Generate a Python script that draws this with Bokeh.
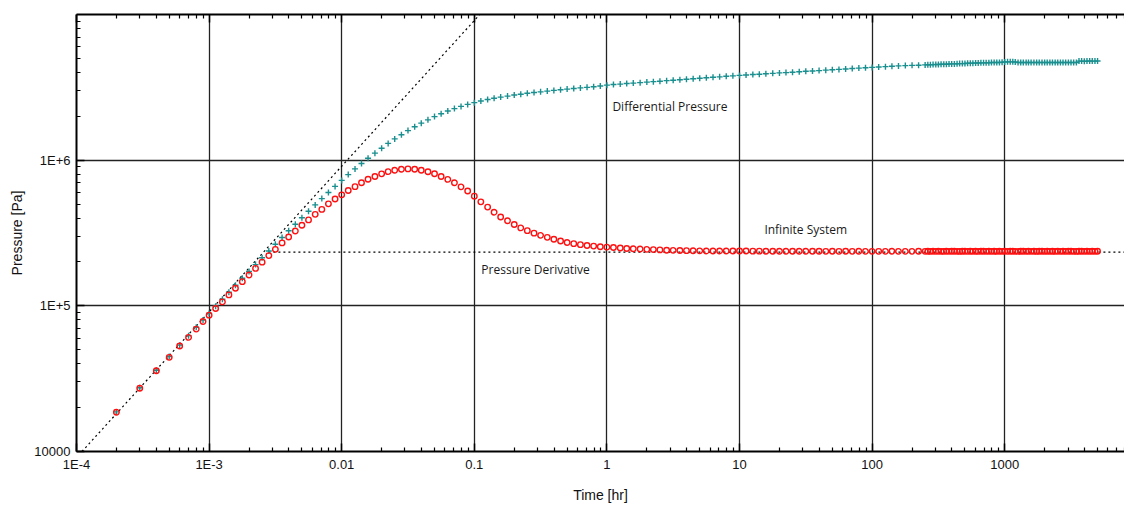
from bokeh.plotting import figure
from bokeh.models import LogAxis, FixedTicker, CustomJSTickFormatter, Label
from bokeh.embed import file_html
from bokeh.resources import INLINE

# Elapsed time [hr]
time_hr = [
    0.0002, 0.0003, 0.0004, 0.0005, 0.0006, 0.0007, 0.0008, 0.0009, 0.001,
    0.00112, 0.00126, 0.00141, 0.00158, 0.00178, 0.002, 0.00224, 0.00251, 0.00282, 0.00316,
    0.00355, 0.00398, 0.00447, 0.00501, 0.00562, 0.00631, 0.00708, 0.00794, 0.00891, 0.01,
    0.0112, 0.0126, 0.0141, 0.0158, 0.0178, 0.02, 0.0224, 0.0251, 0.0282, 0.0316,
    0.0355, 0.0398, 0.0447, 0.0501, 0.0562, 0.0631, 0.0708, 0.0794, 0.0891, 0.1,
    0.112, 0.126, 0.141, 0.158, 0.178, 0.2, 0.224, 0.251, 0.282, 0.316,
    0.355, 0.398, 0.447, 0.501, 0.562, 0.631, 0.708, 0.794, 0.891, 1.0,
    1.12, 1.26, 1.41, 1.58, 1.78, 2.0, 2.24, 2.51, 2.82, 3.16,
    3.55, 3.98, 4.47, 5.01, 5.62, 6.31, 7.08, 7.94, 8.91, 10.0,
    11.2, 12.6, 14.1, 15.8, 17.8, 20.0, 22.4, 25.1, 28.2, 31.6,
    35.5, 39.8, 44.7, 50.1, 56.2, 63.1, 70.8, 79.4, 89.1, 100.0,
    112, 126, 141, 158, 178, 200, 224, 251,
    263, 275, 288, 302, 316, 331, 347, 363, 380, 398, 417, 437, 457, 479, 501,
    525, 550, 575, 603, 631, 661, 692, 724, 759, 794, 832, 871, 912, 955, 1000,
    1050, 1100, 1150, 1200, 1260, 1320, 1380, 1450, 1510, 1580, 1660, 1740, 1820, 1910, 2000,
    2090, 2190, 2290, 2400, 2510, 2630, 2750, 2880, 3020, 3160, 3310, 3470, 3630, 3800, 3980,
    4170, 4370, 4570, 4790, 5010,
]

# Differential pressure [Pa]
diff_pressure_pa = [
    18700, 27400, 36100, 44900, 53700, 62400, 71300, 80000, 88700,
    99300, 110900, 123900, 138400, 154500, 172200, 191900, 213800, 238200, 264900,
    294400, 327300, 363100, 402700, 445700, 493200, 544500, 599800, 660700, 726100,
    796200, 871000, 948400, 1030000, 1117000, 1208000, 1303000, 1400000, 1496000, 1596000,
    1694000, 1795000, 1892000, 1991000, 2084000, 2173000, 2259000, 2339000, 2415000, 2483000,
    2547000, 2606000, 2661000, 2710000, 2754000, 2799000, 2838000, 2877000, 2911000, 2944000,
    2979000, 3013000, 3041000, 3076000, 3105000, 3133000, 3162000, 3192000, 3228000, 3273000,
    3304000, 3327000, 3357000, 3381000, 3404000, 3436000, 3459000, 3483000, 3516000, 3540000,
    3565000, 3597000, 3622000, 3648000, 3681000, 3707000, 3733000, 3767000, 3793000, 3819000,
    3846000, 3873000, 3890000, 3917000, 3945000, 3972000, 3990000, 4018000, 4046000, 4074000,
    4093000, 4121000, 4150000, 4178000, 4198000, 4227000, 4256000, 4285000, 4305000, 4335000,
    4365000, 4385000, 4416000, 4436000, 4457000, 4477000, 4487000, 4508000,
    4519000, 4519000, 4529000, 4539000, 4539000, 4550000, 4560000, 4560000, 4571000, 4581000,
    4581000, 4592000, 4603000, 4603000, 4613000, 4624000, 4624000, 4634000, 4645000, 4645000,
    4656000, 4656000, 4667000, 4667000, 4677000, 4677000, 4688000, 4688000, 4699000, 4721000,
    4732000, 4732000, 4732000, 4721000, 4688000,
    4680000, 4688000, 4677000, 4688000, 4680000, 4677000, 4688000, 4684000, 4677000, 4688000,
    4680000, 4677000, 4688000, 4684000, 4680000, 4677000, 4688000, 4680000, 4684000, 4677000,
    4688000, 4680000,
    4786000, 4786000, 4775000, 4786000, 4797000, 4786000, 4786000, 4797000,
]

# Pressure derivative [Pa]
derivative_pa = [
    18600, 27200, 35800, 44300, 53000, 60700, 69200, 78000, 86300,
    95900, 106400, 118900, 132100, 146600, 162900, 180700, 199500, 221300, 244300,
    270400, 297200, 326600, 357300, 389000, 424600, 459200, 501200, 540800, 578100,
    619400, 657700, 699800, 739600, 772700, 805400, 833700, 853100, 867000, 871000,
    867000, 853100, 831800, 807200, 772700, 737900, 699800, 656100, 613800, 566200,
    517600, 476400, 439500, 407400, 383700, 361400, 342800, 328100, 315500, 304800,
    295100, 286400, 278600, 272300, 267300, 263000, 259400, 257000, 254700, 252900,
    251200, 249500, 247700, 246600, 245500, 244300, 243200, 242100, 241000, 240400,
    239900, 239300, 238800, 238500, 238200, 238000, 238200, 237800, 238000, 237700,
    237700, 237400, 237400, 237200, 237000, 237200, 236900, 237000, 236800, 237000,
    236800, 236900, 236700, 236900, 236700, 236800, 236600, 236800, 236600, 236700,
    236700, 236600, 236800, 236600, 236700, 236600, 236800, 236600,
    236800, 236500, 236900, 236600, 237000, 236700, 236500, 236900, 236600, 236800,
    237100, 236700, 236500, 236900, 236800, 236600, 237000, 236700, 236900, 236500,
    236800, 237000, 236600, 236900, 236700, 236800, 236500, 237000, 236700, 236900,
    236600, 236800, 237100, 236700, 236500, 236900, 236800, 236600, 237000, 236700,
    236900, 236500, 236800, 237000, 236600, 236900, 236700, 236800, 236500, 237000,
    236700, 236900, 236600, 236800, 237100, 236700, 236500, 236900, 236800, 236600,
    237000, 236700, 236900, 236600, 236800,
]

# Wellbore storage (unit slope) and infinite-acting radial flow reference lines
storage_t = [0.00011, 0.11]
storage_p = [10000, 10000000]
radial_t = [0.0028, 8000]
radial_p = [234000, 234000]

x_tick_values = [0.0001, 0.001, 0.01, 0.1, 1, 10, 100, 1000]
x_tick_labels = ["1E-4", "1E-3", "0.01", "0.1", "1", "10", "100", "1000"]
y_tick_values = [10000, 100000, 1000000]
y_tick_labels = ["10000", "1E+5", "1E+6"]

TICK_FONT = "Liberation Sans"
NOTE_FONT = "Open Sans"

p = figure(
    width=1124, height=505,
    x_axis_type="log", y_axis_type="log",
    x_range=(0.0001, 8000), y_range=(10000, 10000000),
    output_backend="svg", toolbar_location=None,
    min_border_left=76, min_border_right=0, min_border_top=14, min_border_bottom=54,
)
p.outline_line_color = None
p.background_fill_color = "white"
p.border_fill_color = "white"

x_minor = [m * 10.0 ** e for e in range(-4, 4) for m in range(2, 10)]
y_minor = [m * 10.0 ** e for e in range(4, 7) for m in range(2, 10)]

fmt_code = """
for (let i = 0; i < vals.length; i++) {
    if (Math.abs(Math.log10(vals[i]) - Math.log10(tick)) < 1e-6) return labs[i];
}
return "";
"""
x_ticker = FixedTicker(ticks=x_tick_values, minor_ticks=x_minor)
y_ticker = FixedTicker(ticks=y_tick_values, minor_ticks=y_minor)
x_fmt = CustomJSTickFormatter(args=dict(vals=x_tick_values, labs=x_tick_labels), code=fmt_code)
y_fmt = CustomJSTickFormatter(args=dict(vals=y_tick_values, labs=y_tick_labels), code=fmt_code)


def style_axis(ax):
    ax.axis_line_color = "black"
    ax.axis_line_width = 2
    ax.major_tick_in = 8
    ax.major_tick_out = 0
    ax.minor_tick_in = 4
    ax.minor_tick_out = 0
    ax.major_tick_line_color = "black"
    ax.minor_tick_line_color = "black"
    ax.major_tick_line_width = 1.5
    ax.minor_tick_line_width = 1.2
    ax.major_label_text_font = TICK_FONT
    ax.major_label_text_font_size = "13px"
    ax.major_label_text_color = "#111111"
    ax.axis_label_text_font = TICK_FONT
    ax.axis_label_text_font_size = "14px"
    ax.axis_label_text_font_style = "normal"
    ax.axis_label_text_color = "#111111"


xa = p.xaxis[0]
xa.ticker = x_ticker
xa.formatter = x_fmt
xa.axis_label = "Time [hr]"
style_axis(xa)
xa.major_label_standoff = 5
xa.axis_label_standoff = 12

ya = p.yaxis[0]
ya.ticker = y_ticker
ya.formatter = y_fmt
ya.axis_label = "Pressure [Pa]"
style_axis(ya)
ya.major_label_standoff = 6
ya.axis_label_standoff = 6

top = LogAxis(ticker=FixedTicker(ticks=x_tick_values, minor_ticks=x_minor),
              formatter=CustomJSTickFormatter(code='return "";'))
style_axis(top)
top.major_label_text_font_size = "0px"
top.major_label_standoff = 0
p.add_layout(top, "above")

p.xgrid.ticker = x_ticker
p.ygrid.ticker = y_ticker
for g in (p.xgrid, p.ygrid):
    g.grid_line_color = "#222222"
    g.grid_line_width = 1.3
    g.grid_line_alpha = 1.0
    g.minor_grid_line_color = None

p.line(storage_t, storage_p, line_color="black", line_width=1.2, line_dash="2 3")
p.line(radial_t, radial_p, line_color="black", line_width=1.2, line_dash="2 3")

p.scatter(time_hr, diff_pressure_pa, marker="cross", size=6,
          line_color="#1a8f8f", line_width=1.4)
p.scatter(time_hr, derivative_pa, marker="circle", size=5.5,
          fill_color=None, line_color="#ff1010", line_width=1.4)

notes = [
    ("Differential Pressure", 1.1, 2340000),
    ("Infinite System", 15.4, 332000),
    ("Pressure Derivative", 0.113, 177000),
]
for txt, tx, py in notes:
    p.add_layout(Label(x=tx, y=py, text=txt, text_font=NOTE_FONT, text_font_size="12px",
                       text_color="#1a1a1a", text_baseline="middle", text_align="left"))

open("out.html", "w").write(file_html(p, INLINE))
